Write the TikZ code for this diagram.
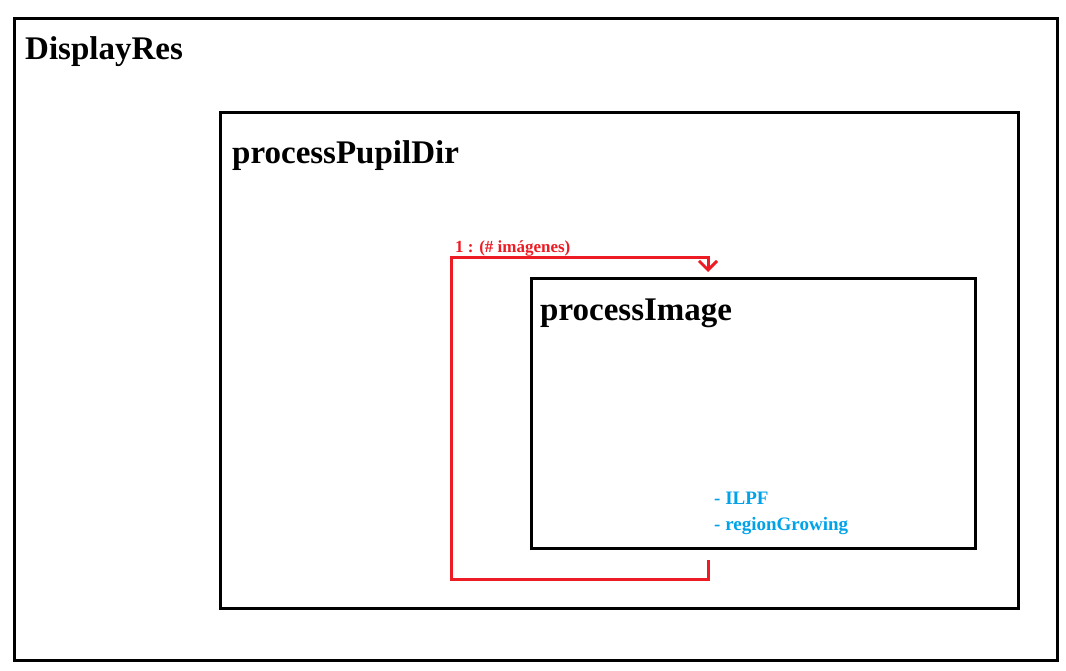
\documentclass[tikz,border=0pt]{standalone}
\usepackage{fontspec}
\setmainfont{Liberation Serif}
\usetikzlibrary{arrows.meta}
\definecolor{loopred}{RGB}{237,28,36}
\definecolor{noteblue}{RGB}{0,162,232}
\begin{document}
\begin{tikzpicture}[x=1pt,y=-1pt,
	box/.style={draw, line width=2.6pt, anchor=north west, inner sep=0pt},
	title/.style={anchor=base west, inner sep=0pt, font=\fontsize{33}{36}\selectfont\bfseries},
	note/.style={anchor=base west, inner sep=0pt, text=noteblue, font=\fontsize{19}{22}\selectfont\bfseries},
	loop/.style={draw=loopred, line width=3pt, -{Straight Barb[length=9pt,width=18pt]}}]

	\useasboundingbox (0,0) rectangle (1066,670);

	\node[box, minimum width=1043pt, minimum height=642pt] (displayres) at (13,17) {};
	\node[box, minimum width=798pt, minimum height=496pt] (pupildir) at (219,111) {};
	\node[box, minimum width=444pt, minimum height=270pt] (image) at (530,277) {};

	\node[title] (displayreslabel) at (25,59) {DisplayRes};
	\node[title] (pupildirlabel) at (232,163) {processPupilDir};
	\node[title] (imagelabel) at (540,320) {processImage};

	\node[note] (ilpf) at (714,504) {- ILPF};
	\node[note] (growing) at (714,530) {- regionGrowing};

	\coordinate (loopstart) at (708,560);
	\coordinate (loopend) at (708,272);
	\draw[loop] (loopstart) -- (708,579) -- (451,579) -- (451,257) -- (708,257) -- (loopend);
	\node[anchor=base west, inner sep=0pt, text=loopred, font=\fontsize{17}{20}\selectfont\bfseries] (looplabel) at (455,252) {1 : (\# imágenes)};

\end{tikzpicture}
\end{document}
